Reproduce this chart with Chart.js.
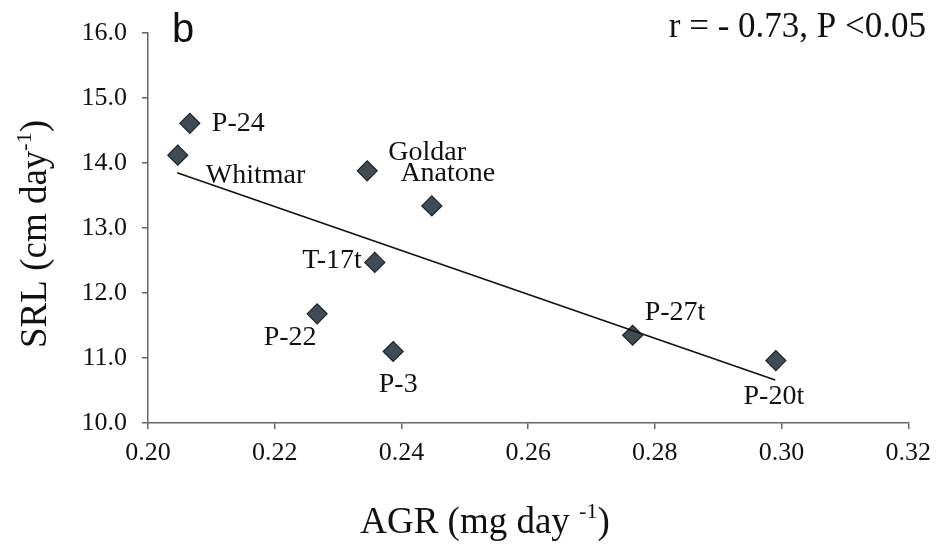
<!DOCTYPE html>
<html lang="en">
<head>
  <meta charset="UTF-8">
  <title>SRL vs AGR</title>
  <script src="https://cdn.jsdelivr.net/npm/chart.js"></script>
  <style>
    body {
      margin: 0;
      background: white;
    }
    #wrap {
      width: 940px;
      height: 546px;
    }
  </style>
</head>
<body>
  <div id="wrap"><canvas id="myChart" width="940" height="546"></canvas></div>

  <script>
    // cultivar names and values
    const cultivars = ['P-24', 'Whitmar', 'Goldar', 'Anatone', 'T-17t', 'P-22', 'P-3', 'P-27t', 'P-20t'];
    const agr = [0.2066, 0.2047, 0.2346, 0.2448, 0.2358, 0.2267, 0.2387, 0.2765, 0.2991];
    const srl = [14.61, 14.12, 13.88, 13.34, 12.47, 11.68, 11.10, 11.35, 10.96];

    // regression line end points
    const trendX = [0.2046, 0.2990];
    const trendY = [13.85, 10.66];

    const xTicks = [0.20, 0.22, 0.24, 0.26, 0.28, 0.30, 0.32];
    const yTicks = [10, 11, 12, 13, 14, 15, 16];

    // label offsets from the marker (px) and alignment
    const labelPos = {
      'P-24':    { dx: 22,  dy: 0,   align: 'left' },
      'Whitmar': { dx: 28,  dy: 20,  align: 'left' },
      'Goldar':  { dx: 21,  dy: -18, align: 'left' },
      'Anatone': { dx: 16,  dy: -32, align: 'center' },
      'T-17t':   { dx: -13, dy: -2,  align: 'right' },
      'P-22':    { dx: -27, dy: 24,  align: 'center' },
      'P-3':     { dx: 5,   dy: 33,  align: 'center' },
      'P-27t':   { dx: 12,  dy: -23, align: 'left' },
      'P-20t':   { dx: -2,  dy: 36,  align: 'center' }
    };

    const serif = '"Liberation Serif", "Times New Roman", serif';

    function drawSup(ctx, main, sup, after, x, y, size, align) {
      // draws "main" + superscript "sup" + "after", centred on x
      ctx.font = size + 'px ' + serif;
      const w1 = ctx.measureText(main).width;
      const w3 = ctx.measureText(after).width;
      ctx.font = Math.round(size * 0.6) + 'px ' + serif;
      const w2 = ctx.measureText(sup).width;
      const total = w1 + w2 + w3;
      let x0 = align === 'center' ? x - total / 2 : x;
      ctx.textAlign = 'left';
      ctx.textBaseline = 'alphabetic';
      ctx.font = size + 'px ' + serif;
      ctx.fillText(main, x0, y);
      ctx.font = Math.round(size * 0.6) + 'px ' + serif;
      ctx.fillText(sup, x0 + w1, y - size * 0.4);
      ctx.font = size + 'px ' + serif;
      ctx.fillText(after, x0 + w1 + w2, y);
    }

    const annotations = {
      id: 'annotations',
      afterDatasetsDraw(chart) {
        const ctx = chart.ctx;
        const meta = chart.getDatasetMeta(1);
        ctx.save();
        ctx.fillStyle = '#111';
        ctx.font = '28px ' + serif;
        ctx.textBaseline = 'middle';
        cultivars.forEach((name, i) => {
          const pt = meta.data[i];
          const p = labelPos[name];
          ctx.textAlign = p.align;
          ctx.fillText(name, pt.x + p.dx, pt.y + p.dy);
        });
        ctx.restore();
      },
      afterDraw(chart) {
        const ctx = chart.ctx;
        const area = chart.chartArea;
        ctx.save();
        ctx.fillStyle = '#111';

        // x title (sits left of the plot centre in the original)
        drawSup(ctx, 'AGR (mg day ', '-1', ')', 485, 533, 37, 'center');

        // y title, rotated
        ctx.save();
        ctx.translate(46, (area.top + area.bottom) / 2 + 6);
        ctx.rotate(-Math.PI / 2);
        drawSup(ctx, 'SRL (cm day', '-1', ')', 0, 0, 37, 'center');
        ctx.restore();

        // panel letter
        ctx.font = '40px "Liberation Sans", Arial, sans-serif';
        ctx.textAlign = 'left';
        ctx.textBaseline = 'alphabetic';
        ctx.fillText('b', 172, 42);

        // statistics
        ctx.font = '35px ' + serif;
        ctx.textAlign = 'right';
        ctx.fillText('r = - 0.73, P <0.05', 926, 37);
        ctx.restore();
      }
    };

    const ctx = document.getElementById('myChart').getContext('2d');
    new Chart(ctx, {
      type: 'scatter',
      data: {
        datasets: [
          {
            type: 'line',
            label: 'Trend',
            data: trendX.map((x, i) => ({ x: x, y: trendY[i] })),
            borderColor: '#111',
            borderWidth: 1.6,
            pointRadius: 0,
            fill: false
          },
          {
            label: 'SRL',
            data: agr.map((x, i) => ({ x: x, y: srl[i] })),
            pointStyle: 'rectRot',
            pointRadius: 10,
            backgroundColor: '#3f4c55',
            borderColor: '#1c2226',
            borderWidth: 1.2
          }
        ]
      },
      options: {
        responsive: false,
        animation: false,
        layout: { padding: { top: 33, right: 28, left: 0, bottom: 0 } },
        plugins: {
          legend: { display: false },
          tooltip: { enabled: false }
        },
        scales: {
          x: {
            type: 'linear',
            min: xTicks[0],
            max: xTicks[xTicks.length - 1],
            afterFit: s => { s.height = 123; },
            afterBuildTicks: s => { s.ticks = xTicks.map(v => ({ value: v })); },
            ticks: {
              color: '#111',
              font: { family: serif, size: 26 },
              padding: 9,
              callback: v => v.toFixed(2)
            },
            grid: { drawOnChartArea: false, tickLength: 6, color: '#666', lineWidth: 1.5 },
            border: { color: '#666', width: 1.5 }
          },
          y: {
            type: 'linear',
            min: yTicks[0],
            max: yTicks[yTicks.length - 1],
            afterFit: s => { s.width = 148; },
            afterBuildTicks: s => { s.ticks = yTicks.map(v => ({ value: v })); },
            ticks: {
              color: '#111',
              font: { family: serif, size: 26 },
              padding: 15,
              callback: v => v.toFixed(1)
            },
            grid: { drawOnChartArea: false, tickLength: 6, color: '#666', lineWidth: 1.5 },
            border: { color: '#666', width: 1.5 }
          }
        }
      },
      plugins: [annotations]
    });
  </script>
</body>
</html>
